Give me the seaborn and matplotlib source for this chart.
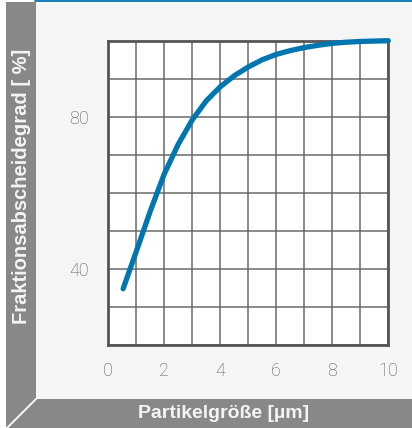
import numpy as np
import pandas as pd
import matplotlib.pyplot as plt
import seaborn as sns
from matplotlib.patches import Polygon, Rectangle

# curve
particle_size = [0.53, 1.0, 1.5, 2.0, 2.5, 3.0, 3.5, 4.0, 4.5, 5.0, 5.5, 6.0, 6.5, 7.0, 7.5, 8.0, 8.5, 9.0, 9.5, 10.0]
efficiency = [34.8, 44.6, 55.2, 65.0, 72.8, 79.2, 84.2, 87.9, 90.8, 93.1, 95.0, 96.4, 97.4, 98.2, 98.8, 99.3, 99.6, 99.8, 99.9, 100.0]

x_ticks = [0, 2, 4, 6, 8, 10]
y_ticks = [40, 80]
x_label = 'Partikelgröße [µm]'
y_label = 'Fraktionsabscheidegrad [ %]'

W, H = 412, 428
BLUE = '#0076b0'
BAND = '#888888'

sns.set_theme(style='white')
plt.rcParams['font.family'] = ['Liberation Sans', 'DejaVu Sans']

fig = plt.figure(figsize=(W / 100, H / 100), dpi=100)
fig.patch.set_facecolor('white')

# background frame drawn in pixel coords
bg = fig.add_axes([0, 0, 1, 1])
bg.set_xlim(0, W)
bg.set_ylim(H, 0)
bg.axis('off')
bg.add_patch(Rectangle((36, 2), W - 36, 397, color='#f5f5f5', lw=0))
bg.add_patch(Polygon([(6, 2), (36, 2), (36, 399), (6, 429)], closed=True, color=BAND, lw=0))
bg.add_patch(Polygon([(36, 399), (W, 399), (W, H), (6, H)], closed=True, color=BAND, lw=0))
bg.plot([36.5, 6], [398.5, 429], color='white', lw=1.3, solid_capstyle='butt')
bg.plot([35, W], [0.8, 0.8], color=BLUE, lw=1.3)
bg.text(224, 413.5, x_label, color='#f4f4f4', fontsize=14, weight='bold', ha='center', va='center')
bg.text(21.5, 186, y_label, color='#f4f4f4', fontsize=14.5, weight='bold', ha='center', va='center',
        rotation=90)

# main chart
left, right, top, bottom = 108.3, 388.3, 40.7, 345
ax = fig.add_axes([left / W, (H - bottom) / H, (right - left) / W, (bottom - top) / H])
ax.set_facecolor('white')

df = pd.DataFrame({'size': particle_size, 'eff': efficiency})
sns.lineplot(data=df, x='size', y='eff', ax=ax, color=BLUE, lw=3.8,
             solid_capstyle='round', solid_joinstyle='round', zorder=5, clip_on=False)

ax.set_xlim(0, 10)
ax.set_ylim(20, 100)
ax.set_xticks(np.arange(0, 11, 1), minor=True)
ax.set_yticks(np.arange(20, 101, 10), minor=True)
ax.set_xticks(x_ticks)
ax.set_yticks(y_ticks)
ax.grid(which='both', color='#6a6a6a', lw=1.1)
ax.set_axisbelow(True)
ax.tick_params(which='both', length=0)
ax.tick_params(axis='x', pad=12)
ax.tick_params(axis='y', pad=14)
for lab in ax.get_xticklabels() + ax.get_yticklabels():
    lab.set_family('Roboto')
    lab.set_weight('light')
    lab.set_fontsize(13)
    lab.set_color('#5a5a5a')
for s in ax.spines.values():
    s.set_visible(True)
    s.set_color('#555555')
    s.set_linewidth(2)
ax.set_xlabel('')
ax.set_ylabel('')

fig.savefig('out.png', dpi=100)
